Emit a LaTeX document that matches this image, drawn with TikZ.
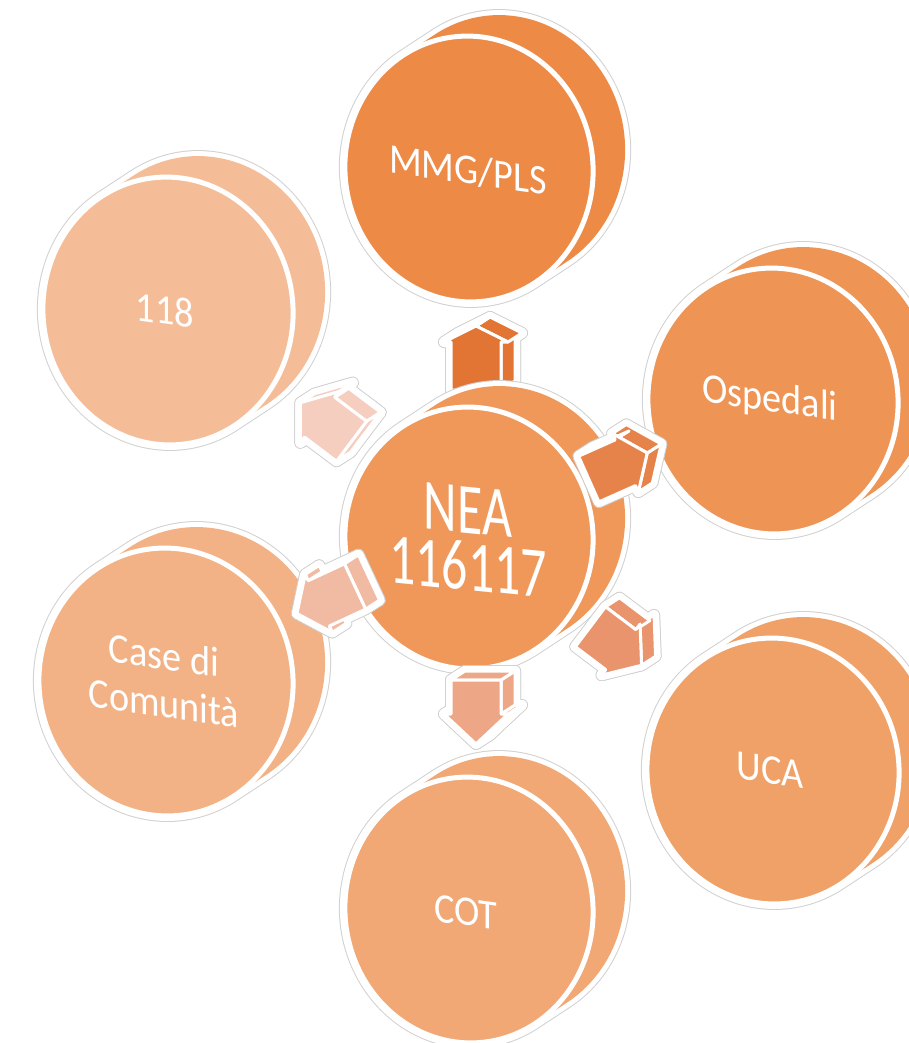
\documentclass[tikz,border=0pt]{standalone}
\usepackage{fontspec}
\setmainfont{Carlito}
\newfontfamily\disclabelfont[FakeStretch=0.91]{Carlito}
\newfontfamily\hubfont[FakeStretch=0.72]{Carlito}
\usetikzlibrary{calc}

% disc fills
\definecolor{cMMG}{RGB}{237,138,70}
\definecolor{cOsp}{RGB}{238,149,86}
\definecolor{cNEA}{RGB}{239,152,90}
\definecolor{cUCA}{RGB}{240,161,103}
\definecolor{cCOT}{RGB}{241,168,117}
\definecolor{cCase}{RGB}{242,178,133}
\definecolor{cEmerg}{RGB}{244,189,151}
% arrow fills
\definecolor{aMMG}{RGB}{226,117,52}
\definecolor{aOsp}{RGB}{230,131,74}
\definecolor{aUCA}{RGB}{233,148,108}
\definecolor{aCOT}{RGB}{237,167,135}
\definecolor{aCase}{RGB}{241,186,162}
\definecolor{aEmerg}{RGB}{246,206,192}

% tilt of the disc faces and depth vector of the discs
\def\discRot{6}
\def\discDx{32}
\def\discDy{21}

% \discshape{name}{x}{y}{colour}{x radius}{y radius}
\newcommand\discshape[6]{%
  \coordinate (#1) at (#2,#3);
  \begin{scope}[shift={(#1)}, rotate=\discRot]
    \pgfmathsetmacro\discVx{\discDx*cos(\discRot)+\discDy*sin(\discRot)}
    \pgfmathsetmacro\discVy{-\discDx*sin(\discRot)+\discDy*cos(\discRot)}
    \pgfmathsetmacro\discTv{atan2(#5*\discVy,#6*\discVx)}
    \def\discHull{(\discTv+90:#5pt and #6pt)
      arc[start angle=\discTv+90, end angle=\discTv+270, x radius=#5pt, y radius=#6pt]
      -- ++(\discVx pt,\discVy pt)
      arc[start angle=\discTv-90, end angle=\discTv+90, x radius=#5pt, y radius=#6pt]
      -- cycle}
    \draw[halo outer] \discHull;
    \draw[halo inner] \discHull;
    \fill[#4] \discHull;
    \filldraw[fill=#4, draw=white, line width=5pt] (0,0) ellipse[x radius=#5pt, y radius=#6pt];
  \end{scope}
}

% \blockarrow{name}{x}{y}{direction}{head length}{colour}
\newcommand\blockarrow[6]{%
  \pgfmathsetmacro\arrSx{32-#5}
  \pgfmathsetmacro\arrEx{14*cos(#4)+9*sin(#4)}
  \pgfmathsetmacro\arrEy{-14*sin(#4)+9*cos(#4)}
  \coordinate (#1) at (#2,#3);
  \begin{scope}[shift={(#1)}, rotate=#4]
    \foreach \k/\px/\py in {1/-32/-25,2/\arrSx/-25,3/\arrSx/-32,4/32/0,5/\arrSx/32,6/\arrSx/25,7/-32/25}
      \coordinate (#1f\k) at (\px,\py);
  \end{scope}
  \begin{scope}[shift={($(#1)+(14,9)$)}, rotate=#4]
    \foreach \k/\px/\py in {1/-32/-25,2/\arrSx/-25,3/\arrSx/-32,4/32/0,5/\arrSx/32,6/\arrSx/25,7/-32/25}
      \coordinate (#1b\k) at (\px,\py);
  \end{scope}
  % white rim with a thin grey outline
  \foreach \hs in {halo outer, halo inner}{
    \foreach \i/\j in {1/2,2/3,3/4,4/5,5/6,6/7,7/1}
      \draw[\hs] (#1f\i)--(#1f\j)--(#1b\j)--(#1b\i)--cycle;
    \draw[\hs] (#1f1) \foreach \k in {2,...,7}{--(#1f\k)} --cycle;
    \draw[\hs] (#1b1) \foreach \k in {2,...,7}{--(#1b\k)} --cycle;
  }
  % back face, hidden side faces, visible side faces, front face
  \filldraw[face=#6] (#1b1) \foreach \k in {2,...,7}{--(#1b\k)} --cycle;
  \foreach \pass in {0,1}{
    \foreach \i/\j/\xa/\ya/\xb/\yb in {1/2/-32/-25/\arrSx/-25, 2/3/\arrSx/-25/\arrSx/-32,
        3/4/\arrSx/-32/32/0, 4/5/32/0/\arrSx/32, 5/6/\arrSx/32/\arrSx/25,
        6/7/\arrSx/25/-32/25, 7/1/-32/25/-32/-25}{
      \pgfmathtruncatemacro\arrVis{(((\yb)-(\ya))*\arrEx-((\xb)-(\xa))*\arrEy)>0}
      \ifnum\arrVis=\pass
        \filldraw[face=#6] (#1f\i)--(#1f\j)--(#1b\j)--(#1b\i)--cycle;
      \fi
    }
  }
  \filldraw[face=#6] (#1f1) \foreach \k in {2,...,7}{--(#1f\k)} --cycle;
}

\begin{document}
\begin{tikzpicture}[x=1pt, y=1pt,
  halo outer/.style={draw=black!18, line width=12pt, line join=round},
  halo inner/.style={draw=white, line width=10pt, line join=round},
  face/.style={fill=#1, draw=white, line width=3pt, line join=round},
  disclabel/.style={text=white, font=\disclabelfont\fontsize{42}{48}\selectfont,
    align=center, yslant=-0.14, inner sep=0pt},
  hublabel/.style={text=white, font=\hubfont\fontsize{72}{57}\selectfont,
    align=center, yslant=-0.1, inner sep=0pt},
]
\useasboundingbox (0,0) rectangle (908,-1043);

% outer discs
\discshape{mmg}{469}{-169}{cMMG}{124}{133}
\node[disclabel] (mmgtext) at (468,-170) {MMG/PLS};
\discshape{osp}{773}{-401}{cOsp}{125}{133}
\node[disclabel] (osptext) at (770,-400) {Ospedali};
\discshape{uca}{773}{-771}{cUCA}{126}{133}
\node[disclabel] (ucatext) at (770,-770) {UCA};
\discshape{cot}{469}{-910}{cCOT}{124}{133}
\node[disclabel] (cottext) at (466,-912) {COT};
\discshape{casa}{166}{-682}{cCase}{127}{134}
\node[disclabel] (casatext) at (164,-679) {Case di\\Comunità};
\discshape{emerg}{168}{-311}{cEmerg}{125}{134}
\node[disclabel] (emergtext) at (165,-310) {118};

% arrow behind the hub
\blockarrow{toMmg}{476}{-358}{90}{16}{aMMG}

% hub disc
\discshape{nea}{469}{-538}{cNEA}{124}{131}
\node[hublabel] (neatext) at (468,-539) {NEA\\116117};

% arrows in front of the hub
\blockarrow{toOsp}{618}{-466}{24}{24}{aOsp}
\blockarrow{toUca}{616}{-646}{-37}{26}{aUCA}
\blockarrow{toCot}{476}{-712}{-90}{30}{aCOT}
\blockarrow{toCasa}{326}{-600}{205}{24}{aCase}
\blockarrow{toEmerg}{326}{-422}{143}{24}{aEmerg}
\end{tikzpicture}
\end{document}
